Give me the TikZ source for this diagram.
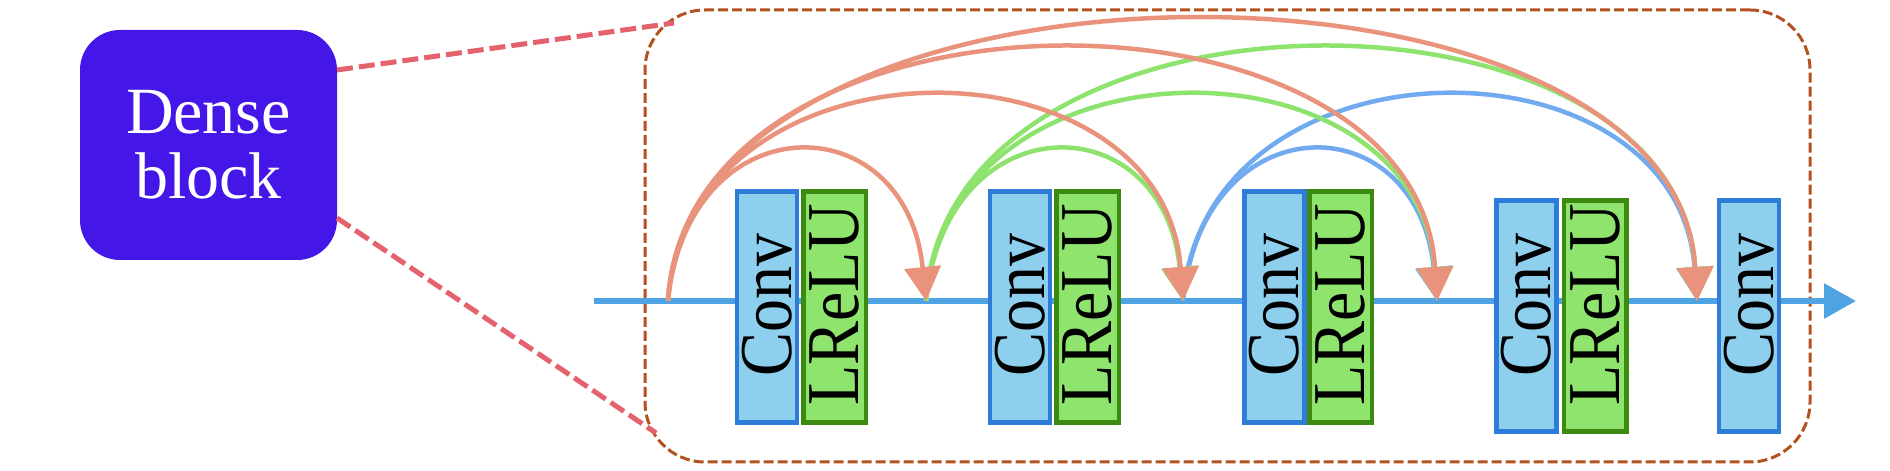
\documentclass[tikz,border=0pt]{standalone}
\usepackage{fontspec}
\setmainfont{Liberation Serif}
\usetikzlibrary{arrows.meta}
\definecolor{arcred}{HTML}{E9937D}
\definecolor{arcgreen}{HTML}{8EE26E}
\definecolor{arcblue}{HTML}{72AAF0}
\definecolor{mainblue}{HTML}{4EA3E3}
\definecolor{convfill}{HTML}{8ECFEE}
\definecolor{convline}{HTML}{2F7CD8}
\definecolor{relufill}{HTML}{8FE46E}
\definecolor{reluline}{HTML}{3C8A10}
\definecolor{densefill}{HTML}{4417E8}
\definecolor{dashred}{HTML}{E4626E}
\definecolor{framebrown}{HTML}{B4521F}
\newcommand{\vtext}[1]{\scalebox{1}[1.13]{#1}}
\begin{document}
\begin{tikzpicture}[x=1pt,y=1pt,
  densebox/.style={fill=densefill, rounded corners=40pt, minimum width=257pt, minimum height=230pt,
    text=white, font=\fontsize{66}{65}\selectfont, align=center, inner sep=0pt},
  framebox/.style={draw=framebrown, line width=3pt, dash pattern=on 10pt off 4pt, rounded corners=60pt,
    minimum width=1165pt, minimum height=452pt, inner sep=0pt},
  zoomline/.style={draw=dashred, line width=5pt, dash pattern=on 16pt off 6pt},
  mainline/.style={draw=mainblue, line width=6pt, -{Triangle[length=32pt,width=34pt]}},
  convbox/.style={draw=convline, fill=convfill, line width=4.5pt, minimum width=60pt, minimum height=231pt, inner sep=0pt},
  relubox/.style={draw=reluline, fill=relufill, line width=4.5pt, minimum width=62.5pt, minimum height=231pt, inner sep=0pt},
  lbl/.style={rotate=90, font=\fontsize{66}{66}\selectfont, inner sep=0pt},
  skip/.style={line width=4.5pt, -{Triangle[length=34pt,width=36pt]}},
  redskip/.style={skip, draw=arcred},
  greenskip/.style={skip, draw=arcgreen},
  blueskip/.style={skip, draw=arcblue}]
\useasboundingbox (0,0) rectangle (1890,471);

% frame of the dense block
\node[framebox] (frame) at (1227.5,235) {};

% dense block
\node[densebox] (dense) at (208.5,326) {Dense\\block};

% zoom lines
\coordinate (dt) at (337,401);
\coordinate (db) at (337,253);
\coordinate (ft) at (674,448);
\coordinate (fb) at (656,38);
\draw[zoomline] (dt) -- (ft);
\draw[zoomline] (db) -- (fb);

% main line
\coordinate (start) at (594,170);
\coordinate (end) at (1856,170);
\draw[mainline] (start) -- (end);

% junctions
\coordinate (J0) at (668,170);
\coordinate (J1) at (926,170);
\coordinate (J2) at (1183,170);
\coordinate (J3) at (1437,170);
\coordinate (J4) at (1697,170);

% layers
\node[convbox] (c1) at (767,164) {};
\node[relubox] (r1) at (834.5,164) {};
\node[convbox] (c2) at (1020,164) {};
\node[relubox] (r2) at (1087.5,164) {};
\node[convbox] (c3) at (1274.5,164) {};
\node[relubox] (r3) at (1340.5,164) {};
\node[convbox] (c4) at (1526.5,155) {};
\node[relubox] (r4) at (1595,155) {};
\node[convbox] (c5) at (1749,155) {};

\node[lbl] (c1t) at (767,166) {\vtext{Conv}};
\node[lbl] (r1t) at (834.5,166) {\vtext{LReLU}};
\node[lbl] (c2t) at (1020,166) {\vtext{Conv}};
\node[lbl] (r2t) at (1087.5,166) {\vtext{LReLU}};
\node[lbl] (c3t) at (1274.5,166) {\vtext{Conv}};
\node[lbl] (r3t) at (1340.5,166) {\vtext{LReLU}};
\node[lbl] (c4t) at (1526.5,166) {\vtext{Conv}};
\node[lbl] (r4t) at (1595,166) {\vtext{LReLU}};
\node[lbl] (c5t) at (1749,166) {\vtext{Conv}};

% skip connections (blue, then green, then red on top)
\draw[blueskip] (J2) .. controls +(20,199) and +(-20,199) .. (J3);
\draw[blueskip] (J2) .. controls +(20,272) and +(-20,272) .. (J4);

\draw[greenskip] (J1) .. controls +(20,199) and +(-20,199) .. (J2);
\draw[greenskip] (J1) .. controls +(20,272) and +(-20,272) .. (J3);
\draw[greenskip] (J1) .. controls +(20,335) and +(-20,335) .. (J4);

\draw[redskip] (J0) .. controls +(20,199) and +(-20,199) .. (J1);
\draw[redskip] (J0) .. controls +(20,272) and +(-20,272) .. (J2);
\draw[redskip] (J0) .. controls +(20,335) and +(-20,335) .. (J3);
\draw[redskip] (J0) .. controls +(20,373) and +(-20,373) .. (J4);
\end{tikzpicture}
\end{document}
